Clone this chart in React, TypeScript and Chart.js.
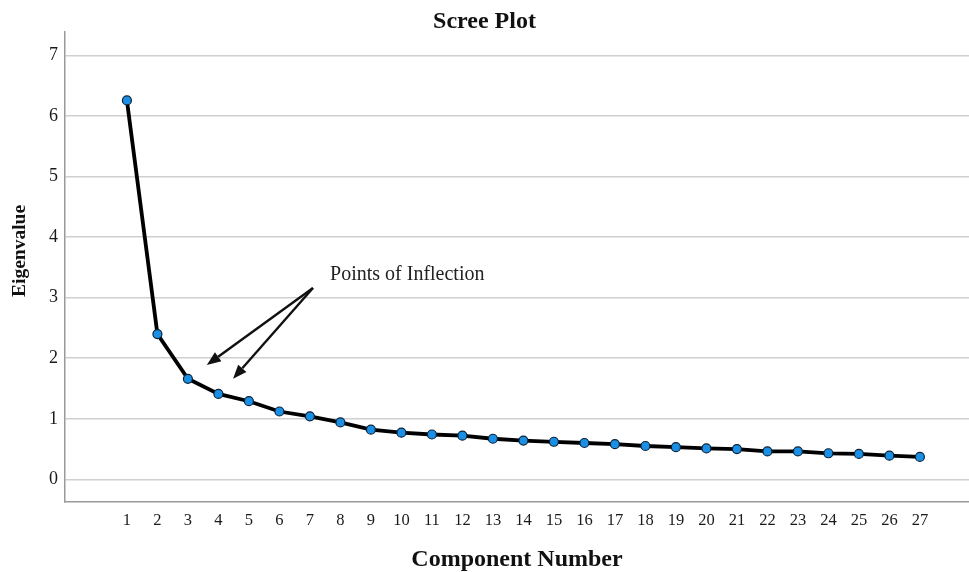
import React, { useEffect, useRef } from 'react';
import { Chart, registerables } from 'chart.js';

Chart.register(...registerables);

// ---- Data ----
const components = [1, 2, 3, 4, 5, 6, 7, 8, 9, 10, 11, 12, 13, 14, 15, 16, 17, 18, 19, 20, 21, 22, 23, 24, 25, 26, 27];
const eigenvalues = [
  6.26, 2.4, 1.66, 1.41, 1.29, 1.12, 1.04, 0.94, 0.82, 0.77, 0.74, 0.72, 0.67, 0.64,
  0.62, 0.6, 0.58, 0.55, 0.53, 0.51, 0.5, 0.46, 0.46, 0.43, 0.42, 0.39, 0.37,
];
const yTickValues = [0, 1, 2, 3, 4, 5, 6, 7];

const chartTitle = 'Scree Plot';
const xTitle = 'Component Number';
const yTitle = 'Eigenvalue';

// annotation, in data coordinates
const annotationText = 'Points of Inflection';
const annotationAnchor = { x: 7.66, y: 3.38 };
const arrowTail = { x: 7.1, y: 3.16 };
const arrowHeads = [
  { x: 3.62, y: 1.89 },
  { x: 4.48, y: 1.66 },
];

const SERIF = "'Liberation Serif', 'Times New Roman', serif";

const overlayPlugin = {
  id: 'screeOverlay',
  afterDatasetsDraw(chart: any) {
    const { ctx, chartArea } = chart;
    const xs = chart.scales.x;
    const ys = chart.scales.y;
    ctx.save();
    ctx.strokeStyle = '#111';
    ctx.fillStyle = '#111';
    ctx.lineWidth = 2.4;
    const tx = xs.getPixelForValue(arrowTail.x);
    const ty = ys.getPixelForValue(arrowTail.y);
    for (const h of arrowHeads) {
      const hx = xs.getPixelForValue(h.x);
      const hy = ys.getPixelForValue(h.y);
      const ang = Math.atan2(hy - ty, hx - tx);
      const len = 14;
      const hw = 5.5;
      const bx = hx - len * Math.cos(ang);
      const by = hy - len * Math.sin(ang);
      ctx.beginPath();
      ctx.moveTo(tx, ty);
      ctx.lineTo(bx, by);
      ctx.stroke();
      ctx.beginPath();
      ctx.moveTo(hx, hy);
      ctx.lineTo(bx + hw * Math.sin(ang), by - hw * Math.cos(ang));
      ctx.lineTo(bx - hw * Math.sin(ang), by + hw * Math.cos(ang));
      ctx.closePath();
      ctx.fill();
    }
    ctx.font = `20px ${SERIF}`;
    ctx.textAlign = 'left';
    ctx.textBaseline = 'middle';
    ctx.fillStyle = '#222';
    ctx.fillText(annotationText, xs.getPixelForValue(annotationAnchor.x), ys.getPixelForValue(annotationAnchor.y));

    // y-axis title
    ctx.translate(20, (chartArea.top + chartArea.bottom) / 2 - 16);
    ctx.rotate(-Math.PI / 2);
    ctx.font = `bold 19.5px ${SERIF}`;
    ctx.textAlign = 'center';
    ctx.textBaseline = 'middle';
    ctx.fillStyle = '#111';
    ctx.fillText(yTitle, 0, 0);
    ctx.restore();
  },
};

export default function App() {
  const canvasRef = useRef<HTMLCanvasElement | null>(null);

  useEffect(() => {
    document.body.style.margin = '0';
    const canvas = canvasRef.current;
    if (!canvas) return;
    Chart.defaults.font.family = SERIF;
    const chart = new Chart(canvas, {
      type: 'line',
      data: {
        datasets: [
          {
            data: components.map((c, i) => ({ x: c, y: eigenvalues[i] })),
            borderColor: '#000',
            borderWidth: 3.8,
            pointRadius: 4.5,
            pointBorderWidth: 1.2,
            pointBackgroundColor: '#1b8fe4',
            pointBorderColor: '#0b2238',
            tension: 0,
            fill: false,
          },
        ],
      },
      options: {
        animation: false,
        responsive: true,
        maintainAspectRatio: false,
        layout: { padding: 0, autoPadding: false },
        plugins: {
          legend: { display: false },
          tooltip: { enabled: false },
          title: {
            display: true,
            text: chartTitle,
            color: '#111',
            font: { family: SERIF, size: 24, weight: 'bold', lineHeight: 1.0 },
            padding: { top: 10, bottom: -2 },
          },
        },
        scales: {
          x: {
            type: 'linear',
            min: -1.03,
            max: 28.61,
            afterBuildTicks: (scale: any) => {
              scale.ticks = components.map((v) => ({ value: v }));
            },
            afterFit: (scale: any) => {
              scale.height = 70;
            },
            grid: { display: false, drawTicks: false },
            border: { display: true, color: '#9a9a9a', width: 1.5 },
            ticks: {
              autoSkip: false,
              maxRotation: 0,
              padding: 9,
              color: '#1a1a1a',
              font: { family: SERIF, size: 16.5 },
              callback: (v: any) => String(v),
            },
            title: {
              display: true,
              text: xTitle,
              color: '#111',
              font: { family: SERIF, size: 24, weight: 'bold', lineHeight: 1.0 },
              padding: { top: 0, bottom: 0 },
            },
          },
          y: {
            type: 'linear',
            min: -0.375,
            max: 7.39,
            afterBuildTicks: (scale: any) => {
              scale.ticks = yTickValues.map((v) => ({ value: v }));
            },
            afterFit: (scale: any) => {
              scale.width = 65;
            },
            grid: { color: '#cfcfcf', lineWidth: 1.5, drawTicks: false },
            border: { display: true, color: '#9a9a9a', width: 1.5 },
            ticks: {
              padding: 7,
              color: '#1a1a1a',
              font: { family: SERIF, size: 18 },
              callback: (v: any) => String(v),
            },
          },
        },
      },
      plugins: [overlayPlugin],
    });
    return () => chart.destroy();
  }, []);

  return (
    <div style={{ position: 'relative', width: 969, height: 572 }}>
      <canvas ref={canvasRef} />
    </div>
  );
}
